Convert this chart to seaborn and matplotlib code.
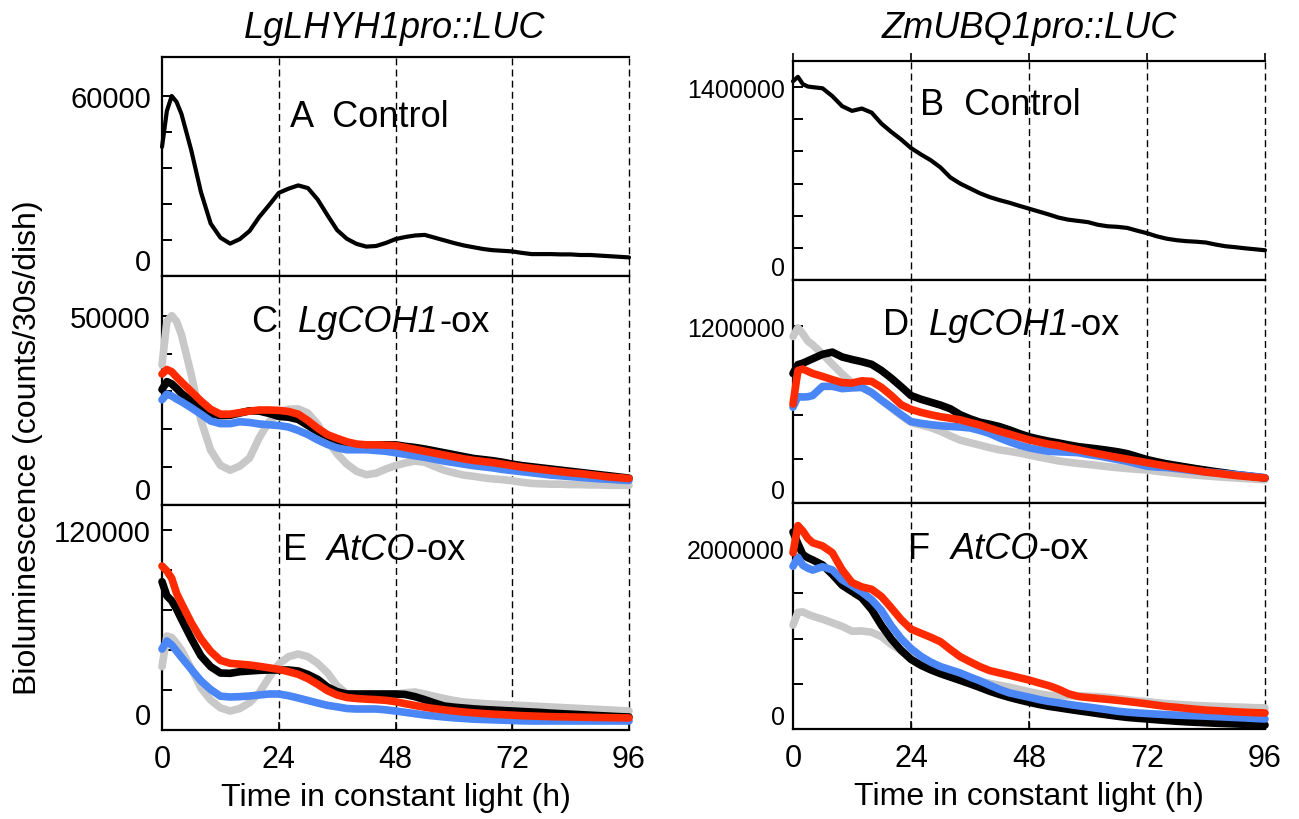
import matplotlib
matplotlib.use("Agg")
import matplotlib.pyplot as plt
import pandas as pd
import seaborn as sns

# ---------------- data ----------------
hours = [0, 1, 2, 3, 4, 6, 8, 10, 12, 14, 16, 18, 20, 22, 24, 26, 28, 30, 32, 34,
         36, 38, 40, 42, 44, 46, 48, 50, 52, 54, 56, 58, 60, 62, 64, 66, 68, 70,
         72, 74, 76, 78, 80, 82, 84, 86, 88, 90, 92, 94, 96]

# LgLHYH1pro::LUC
A_control = [43000, 55000, 60000, 58000, 54000, 42000, 28000, 17500, 12800, 10800,
             12300, 15000, 19700, 23600, 27700, 29100, 30200, 29300, 25500, 20300,
             15300, 12400, 10700, 9800, 10000, 11000, 12300, 13000, 13500, 13700,
             12800, 11900, 11000, 10200, 9600, 9000, 8600, 8400, 8200, 7700,
             7300, 7300, 7300, 7200, 7200, 7000, 7000, 6800, 6600, 6400, 6200]

C_grey = [37000, 48500, 50000, 48500, 45000, 34500, 22400, 14500, 10500, 9200,
          10300, 12400, 17800, 22000, 24600, 25300, 25400, 24300, 21300, 17000,
          13500, 10800, 8900, 8000, 8400, 9500, 10400, 11100, 11600, 11300,
          10200, 9200, 8500, 7900, 7600, 7200, 6900, 6700, 6400, 6000,
          5700, 5600, 5500, 5500, 5400, 5400, 5300, 5300, 5200, 5200, 5200]
C_black = [30500, 32600, 32000, 30800, 29500, 27500, 25800, 24100, 23600, 23700,
           24300, 24900, 24800, 24200, 23400, 23200, 22600, 21000, 19400, 18200,
           17000, 16400, 15900, 15900, 15900, 15900, 15900, 15500, 15200, 14800,
           14300, 13800, 13300, 12800, 12300, 12000, 11700, 11300, 10800, 10400,
           10100, 9800, 9500, 9200, 8900, 8600, 8300, 8000, 7700, 7400, 7100]
C_red = [34600, 35800, 35200, 33800, 32500, 30000, 27500, 25300, 24000, 24000,
         24400, 24800, 25100, 25100, 25000, 24700, 24000, 22300, 20300, 18600,
         17600, 16700, 16100, 15900, 15900, 15800, 15700, 15200, 14700, 14200,
         13700, 13200, 12700, 12200, 11800, 11500, 11200, 10800, 10400, 10000,
         9700, 9400, 9100, 8800, 8500, 8300, 8000, 7700, 7400, 7200, 7000]
C_blue = [27800, 29300, 28800, 28000, 27300, 25700, 24000, 22200, 21500, 21500,
          22000, 21800, 21400, 21200, 21000, 20600, 19700, 18600, 17200, 16000,
          15100, 14600, 14600, 14600, 14400, 14200, 13800, 13400, 13000, 12600,
          12100, 11600, 11200, 10800, 10400, 10100, 9800, 9400, 9100, 8800,
          8500, 8200, 7900, 7700, 7500, 7300, 7100, 6900, 6800, 6600, 6500]

E_grey = [38000, 56400, 55500, 52000, 48000, 37000, 25200, 18000, 13300, 11400,
          12900, 16400, 22400, 31500, 39500, 44000, 45600, 44000, 40000, 34400,
          26500, 21800, 20400, 20000, 19800, 20500, 21500, 22300, 22800, 21600,
          20200, 18900, 17700, 16800, 16300, 15900, 15500, 15200, 14900, 14700,
          14400, 14100, 13800, 13500, 13200, 12900, 12600, 12300, 12000, 11700, 11400]
E_black = [89000, 80500, 77500, 72500, 66500, 55000, 44500, 38000, 34200, 34000,
           35000, 35400, 35800, 36000, 36000, 36000, 35400, 33300, 30400, 25800,
           23000, 21600, 21600, 21600, 21600, 21600, 21600, 21300, 20000, 18200,
           16200, 14400, 13700, 13200, 12700, 12300, 12000, 11700, 11400, 11100,
           10800, 10500, 10100, 9800, 9500, 9200, 8900, 8600, 8300, 8000, 7800]
E_red = [98400, 95400, 91000, 82000, 76000, 64500, 54700, 47200, 41800, 40000,
         39500, 39000, 38200, 37300, 36400, 35000, 33400, 30800, 27400, 23600,
         21000, 19500, 18900, 18500, 18200, 17800, 17000, 15800, 14700, 13700,
         12800, 12100, 11400, 10800, 10300, 9900, 9500, 9200, 8900, 8600,
         8400, 8200, 8000, 7900, 7800, 7700, 7600, 7500, 7400, 7300, 7200]
E_blue = [48600, 53400, 51000, 47300, 43600, 36500, 29500, 24300, 20300, 19800,
          20000, 20400, 21000, 21600, 21600, 20600, 19200, 17700, 16200, 14800,
          13900, 12900, 12600, 12600, 12600, 12100, 11400, 10600, 9800, 9000,
          8400, 7800, 7300, 6900, 6500, 6300, 6100, 5900, 5700, 5500,
          5400, 5400, 5400, 5400, 5400, 5400, 5400, 5400, 5400, 5400, 5400]

# ZmUBQ1pro::LUC
B_control = [1443000, 1475000, 1422000, 1405000, 1400000, 1392000, 1335000, 1262000,
             1228000, 1245000, 1215000, 1135000, 1075000, 1020000, 958000, 912000,
             870000, 817000, 745000, 700000, 665000, 630000, 602000, 580000, 561000,
             539000, 518000, 497000, 476000, 453000, 438000, 429000, 420000, 401000,
             390000, 386000, 378000, 358000, 340000, 317000, 300000, 289000, 282000,
             278000, 272000, 257000, 245000, 238000, 230000, 223000, 216000]

D_grey = [1131000, 1190000, 1150000, 1100000, 1075000, 1012000, 943000, 876000,
          818000, 785000, 750000, 698000, 645000, 594000, 547000, 530000, 512000,
          487000, 456000, 427000, 410000, 393000, 376000, 361000, 351000, 340000,
          326000, 312000, 299000, 286000, 277000, 269000, 262000, 255000, 247000,
          240000, 234000, 229000, 224000, 216000, 208000, 201000, 195000, 189000,
          184000, 179000, 174000, 170000, 166000, 162000, 158000]
D_black = [880000, 940000, 950000, 965000, 980000, 1010000, 1025000, 992000, 975000,
           960000, 942000, 900000, 848000, 790000, 730000, 705000, 685000, 665000,
           640000, 600000, 572000, 549000, 535000, 519000, 497000, 472000, 450000,
           434000, 420000, 408000, 395000, 383000, 375000, 367000, 358000, 348000,
           335000, 315000, 295000, 280000, 266000, 255000, 244000, 233000, 223000,
           213000, 204000, 194000, 186000, 178000, 170000]
D_red = [672000, 900000, 910000, 895000, 880000, 860000, 838000, 818000, 815000,
         830000, 826000, 785000, 730000, 668000, 636000, 616000, 600000, 586000,
         576000, 565000, 547000, 530000, 508000, 487000, 468000, 448000, 429000,
         414000, 400000, 390000, 375000, 362000, 348000, 335000, 322000, 310000,
         298000, 286000, 274000, 262000, 251000, 241000, 231000, 221000, 210000,
         203000, 195000, 187000, 181000, 175000, 170000]
D_blue = [651000, 722000, 720000, 722000, 730000, 792000, 793000, 777000, 782000,
          785000, 750000, 698000, 650000, 600000, 553000, 541000, 532000, 525000,
          520000, 516000, 510000, 493000, 472000, 442000, 416000, 393000, 375000,
          362000, 351000, 348000, 345000, 342000, 330000, 320000, 308000, 295000,
          283000, 266000, 250000, 244000, 241000, 234000, 226000, 218000, 211000,
          205000, 199000, 193000, 187000, 180000, 172000]

F_grey = [1150000, 1290000, 1295000, 1270000, 1248000, 1215000, 1175000, 1135000,
          1082000, 1085000, 1070000, 1022000, 935000, 866000, 805000, 750000, 698000,
          665000, 633000, 595000, 558000, 527000, 505000, 484000, 463000, 438000,
          413000, 390000, 372000, 367000, 367000, 366000, 362000, 358000, 350000,
          337000, 324000, 311000, 303000, 290000, 281000, 273000, 266000, 260000,
          255000, 251000, 247000, 243000, 240000, 236000, 233000]
F_black = [2180000, 2050000, 1930000, 1895000, 1870000, 1815000, 1710000, 1590000,
           1520000, 1450000, 1320000, 1145000, 995000, 870000, 770000, 705000, 655000,
           612000, 575000, 538000, 500000, 460000, 418000, 382000, 350000, 322000,
           296000, 272000, 251000, 235000, 218000, 202000, 187000, 171000, 156000,
           141000, 128000, 119000, 111000, 102000, 94000, 86000, 79000, 74000,
           69000, 64000, 60000, 56000, 52000, 48000, 44000]
F_red = [1950000, 2250000, 2190000, 2110000, 2060000, 2025000, 1950000, 1760000,
         1620000, 1572000, 1545000, 1465000, 1340000, 1210000, 1105000, 1060000,
         1015000, 965000, 880000, 800000, 744000, 690000, 646000, 620000, 595000,
         568000, 542000, 510000, 480000, 440000, 390000, 360000, 348000, 338000,
         328000, 317000, 305000, 292000, 278000, 263000, 249000, 240000, 228000,
         218000, 209000, 203000, 197000, 190000, 185000, 181000, 177000]
F_blue = [1800000, 1900000, 1811000, 1780000, 1758000, 1795000, 1760000, 1650000,
          1585000, 1515000, 1430000, 1310000, 1140000, 1000000, 890000, 805000,
          740000, 690000, 655000, 620000, 575000, 533000, 485000, 438000, 400000,
          375000, 352000, 326000, 305000, 290000, 272000, 257000, 243000, 228000,
          213000, 197000, 186000, 178000, 171000, 165000, 159000, 154000, 150000,
          146000, 142000, 137000, 132000, 127000, 122000, 116000, 111000]

x_ticks = [0, 24, 48, 72, 96]
x_tick_labels = ["0", "24", "48", "72", "96"]

col_titles = ["LgLHYH1pro::LUC", "ZmUBQ1pro::LUC"]
# panel label pieces: (text, italic?)
panel_labels = {
    "A": [("A  Control", False)],
    "B": [("B  Control", False)],
    "C": [("C  ", False), ("LgCOH1", True), ("-ox", False)],
    "D": [("D  ", False), ("LgCOH1", True), ("-ox", False)],
    "E": [("E  ", False), ("AtCO", True), ("-ox", False)],
    "F": [("F  ", False), ("AtCO", True), ("-ox", False)],
}
y_ticks = {
    "A": [0, 12000, 24000, 36000, 48000, 60000],
    "C": [0, 10000, 20000, 30000, 40000, 50000],
    "E": [0, 24000, 48000, 72000, 96000, 120000],
    "B": [0, 233333, 466667, 700000, 933333, 1166667, 1400000],
    "D": [0, 300000, 600000, 900000, 1200000],
    "F": [0, 500000, 1000000, 1500000, 2000000],
}
y_limits = {"A": 73000, "C": 60500, "E": 135000,
            "B": 1590000, "D": 1515000, "F": 2500000}

colors = {"grey": "#c8c8c8", "black": "#000000", "blue": "#4a86f5", "red": "#ff2a00"}
order = ["grey", "black", "blue", "red"]

panels_series = {
    "A": {"black": A_control},
    "B": {"black": B_control},
    "C": {"grey": C_grey, "black": C_black, "blue": C_blue, "red": C_red},
    "D": {"grey": D_grey, "black": D_black, "blue": D_blue, "red": D_red},
    "E": {"grey": E_grey, "black": E_black, "blue": E_blue, "red": E_red},
    "F": {"grey": F_grey, "black": F_black, "blue": F_blue, "red": F_red},
}

# ---------------- style ----------------
sns.set_style("white")
plt.rcParams["font.family"] = ["Liberation Sans", "DejaVu Sans"]
for k in ["text.color", "axes.labelcolor", "xtick.color", "ytick.color", "axes.edgecolor"]:
    plt.rcParams[k] = "black"

W, H = 1299, 820
fig = plt.figure(figsize=(W / 100, H / 100), dpi=100)


def box(x0, x1, y0, y1):
    return [x0 / W, 1 - y1 / H, (x1 - x0) / W, (y1 - y0) / H]


layout = {
    "A": box(162, 629, 58, 277), "C": box(162, 629, 277, 506), "E": box(162, 629, 506, 731),
    "B": box(793, 1265, 62, 281), "D": box(793, 1265, 281, 504), "F": box(793, 1265, 504, 730),
}
# left edge (axes fraction) and vertical centre of the in-panel labels
label_pos = {"A": (0.275, 0.73), "C": (0.193, 0.80), "E": (0.259, 0.80),
             "B": (0.270, 0.80), "D": (0.190, 0.80), "F": (0.244, 0.80)}

for key in ["A", "C", "E", "B", "D", "F"]:
    ax = fig.add_axes(layout[key])
    left_col = key in "ACE"
    series = panels_series[key]
    rows = []
    for name in order:
        if name in series:
            for t, v in zip(hours, series[name]):
                rows.append({"t": t, "v": v, "s": name})
    df = pd.DataFrame(rows)
    hue_order = [n for n in order if n in series]
    lw = 3.0 if key in "AB" else 5.5
    sns.lineplot(data=df, x="t", y="v", hue="s", hue_order=hue_order,
                 palette=colors, linewidth=lw, legend=False, ax=ax,
                 estimator=None, sort=True, solid_capstyle="round",
                 solid_joinstyle="round", zorder=3)
    for ln in ax.get_lines():
        ln.set_clip_on(False)

    # dashed verticals
    for xv in [24, 48, 72, 96]:
        ax.axvline(xv, color="black", lw=1.0, ls=(0, (5, 3)), zorder=1, clip_on=False)

    ax.set_xlim(0, 96)
    ax.set_ylim(0, y_limits[key])
    ax.set_xlabel("")
    ax.set_ylabel("")

    for sp in ["left", "bottom", "top"]:
        ax.spines[sp].set_visible(True)
        ax.spines[sp].set_color("black")
        ax.spines[sp].set_linewidth(1.6)
    ax.spines["right"].set_visible(False)

    yt = y_ticks[key]
    ylabels = [""] * len(yt)
    ylabels[0] = "0"
    ylabels[-1] = f"{yt[-1]:d}"
    ax.set_yticks(yt, labels=ylabels)
    yfs = 21 if left_col else 18
    ax.tick_params(axis="y", direction="in", length=7, width=1.4, labelsize=yfs,
                   pad=8 if left_col else 6, left=True, colors="black")
    ylbls = ax.get_yticklabels()
    ylbls[0].set_verticalalignment("bottom")

    ax.set_xticks(x_ticks)
    if key in "EF":
        ax.set_xticklabels(x_tick_labels)
        ax.tick_params(axis="x", direction="in", length=6, width=1.2,
                       labelsize=22, pad=10, bottom=True, colors="black")
        ax.set_xlabel("Time in constant light (h)", fontsize=23, labelpad=6,
                      color="black")
    else:
        ax.set_xticklabels([])
        ax.tick_params(axis="x", length=0)
    if key == "B":
        ax.tick_params(axis="x", which="major", top=True, direction="out",
                       length=6, width=1.2, labeltop=False)

    lx, ly = label_pos[key]
    prev = None
    for txt, ital in panel_labels[key]:
        style = "italic" if ital else "normal"
        if prev is None:
            prev = ax.text(lx, ly, txt, transform=ax.transAxes, ha="left",
                           va="center", fontsize=26, style=style, zorder=5,
                           color="black")
        else:
            prev = ax.annotate(txt, xy=(1, 0), xycoords=prev, ha="left",
                               va="bottom", fontsize=26, style=style, zorder=5,
                               color="black")

fig.text(395 / W, 1 - 28 / H, col_titles[0], ha="center", va="center",
         fontsize=26, style="italic", color="black")
fig.text(1029 / W, 1 - 28 / H, col_titles[1], ha="center", va="center",
         fontsize=26, style="italic", color="black")
fig.text(28 / W, 1 - 448 / H, "Bioluminescence (counts/30s/dish)", rotation=90,
         ha="center", va="center", fontsize=23, color="black")

fig.savefig("out.png", dpi=100, facecolor="white")
